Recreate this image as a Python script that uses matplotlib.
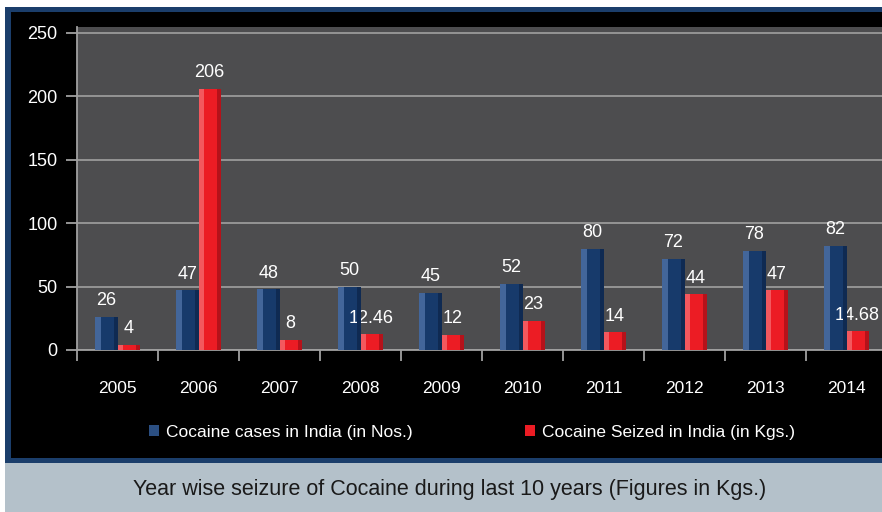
import matplotlib.pyplot as plt
import matplotlib.patches as patches
import numpy as np

years = ['2005', '2006', '2007', '2008', '2009', '2010', '2011', '2012', '2013', '2014']
cases = [26, 47, 48, 50, 45, 52, 80, 72, 78, 82]
seized = [4, 206, 8, 12.46, 12, 23, 14, 44, 47, 14.68]
case_labels = ['26', '47', '48', '50', '45', '52', '80', '72', '78', '82']
seized_labels = ['4', '206', '8', '12.46', '12', '23', '14', '44', '47', '14.68']
y_ticks = [0, 50, 100, 150, 200, 250]

plt.rcParams['font.family'] = ['Liberation Sans', 'DejaVu Sans']

W, H = 882, 512
fig = plt.figure(figsize=(W / 100, H / 100), dpi=100)
fig.patch.set_facecolor('white')

# frame: blue border around the black panel, caption band underneath
frame = [
    ((5, 463), W - 5, 463 - 7, '#1b3e6b'),
    ((11, 458), W - 11, 458 - 12, 'black'),
    ((5, 512), W - 5, 512 - 463, '#b4c1ca'),
]
for (px, py), w, h, c in frame:
    fig.patches.append(patches.Rectangle((px / W, 1 - py / H), w / W, h / H,
                                         transform=fig.transFigure, facecolor=c,
                                         edgecolor='none', zorder=-5))

# plot area in pixels: left 77, bottom 350, width 810, top 27
ax = fig.add_axes([77 / W, 1 - 350 / H, 810 / W, (350 - 27) / H], zorder=2)
ax.set_facecolor('#4d4d4f')
ax.set_xlim(-0.5, 9.5)
ax.set_ylim(0, 254.7)

x = np.arange(len(years))
bw = 0.272
hl = 0.07

# blue bars with a lighter left strip and darker right edge
ax.bar(x - bw / 2, cases, bw, color='#173a6b', zorder=3)
ax.bar(x - bw + hl / 2, cases, hl, color='#43669a', zorder=3.1)
ax.bar(x - 0.02, cases, 0.04, color='#0f2a52', zorder=3.1)
# red bars
ax.bar(x + bw / 2, seized, bw, color='#ec1c24', zorder=3)
ax.bar(x + hl / 2, seized, hl, color='#f3585e', zorder=3.1)
ax.bar(x + bw - 0.02, seized, 0.04, color='#b5121a', zorder=3.1)

for xi, v, s in zip(x, cases, case_labels):
    ax.text(xi - bw / 2, v + 6, s, ha='center', va='bottom', color='white', fontsize=13)
for xi, v, s in zip(x, seized, seized_labels):
    ax.text(xi + bw / 2, v + 6, s, ha='center', va='bottom', color='white', fontsize=13)

ax.set_yticks(y_ticks)
ax.set_yticklabels([str(t) for t in y_ticks], color='white', fontsize=13)
ax.yaxis.grid(True, color='#9a9a9a', linewidth=1.3, zorder=1)
ax.set_axisbelow(True)

ax.set_xticks(x)
ax.set_xticklabels(years, color='white', fontsize=12.5)
ax.set_xticks(np.arange(-0.5, 10, 1), minor=True)
ax.tick_params(axis='x', which='major', length=0, pad=22)
ax.tick_params(axis='x', which='minor', length=8, color='#a0a0a0', width=1.3)
ax.tick_params(axis='y', length=8, color='#a0a0a0', width=1.3, pad=6)

for side in ['top', 'right']:
    ax.spines[side].set_visible(False)
for side in ['left', 'bottom']:
    ax.spines[side].set_color('#a0a0a0')
    ax.spines[side].set_linewidth(1.3)

# legend
h1 = patches.Patch(facecolor='#2b4f82', edgecolor='none')
h2 = patches.Patch(facecolor='#ec1c24', edgecolor='none')
fig.legend([h1, h2], ['Cocaine cases in India (in Nos.)', 'Cocaine Seized in India (in Kgs.)'],
           loc='center', bbox_to_anchor=(472 / W, 1 - 432 / H), ncol=2, frameon=False,
           fontsize=12.5, labelcolor='white', handlelength=0.55, handleheight=0.55,
           handletextpad=0.4, columnspacing=6.5)

fig.text(450 / W, 1 - 489 / H, 'Year wise seizure of Cocaine during last 10 years (Figures in Kgs.)',
         ha='center', va='center', fontsize=15.5, color='#1a1a1a')

fig.savefig('out.png', dpi=100, facecolor=fig.get_facecolor())
